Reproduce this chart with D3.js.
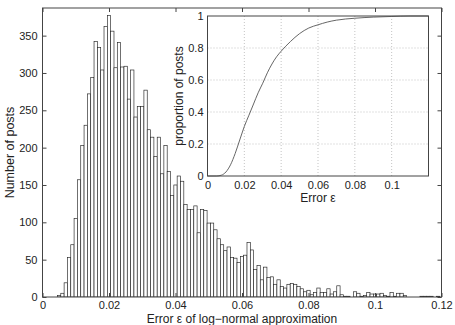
<!DOCTYPE html>
<html>
<head>
<meta charset="utf-8">
<script src="https://cdn.jsdelivr.net/npm/d3@7/dist/d3.min.js"></script>
<style>
  body { margin: 0; background: #fff; }
  text { font-family: "Liberation Sans", Arial, sans-serif; fill: #222; }
</style>
</head>
<body>
<svg id="chart" width="455" height="325"></svg>
<script>
// histogram: bars centred on k * binWidth, k = 0..120
const binWidth = 0.001;
const counts = [
  0, 0, 0, 0, 0, 2, 5, 19, 53, 70,
  105, 157, 203, 230, 272, 294, 342, 334, 304, 362,
  377, 356, 307, 341, 308, 309, 265, 304, 241, 255,
  255, 277, 224, 214, 188, 214, 165, 203, 168, 136,
  150, 162, 155, 124, 117, 117, 122, 86, 117, 116,
  99, 99, 90, 78, 70, 62, 67, 53, 52, 46,
  54, 56, 73, 63, 37, 42, 23, 40, 26, 27,
  17, 23, 14, 12, 17, 18, 17, 14, 11, 7,
  9, 3, 6, 12, 6, 6, 11, 4, 7, 15,
  3, 1, 1, 0, 7, 5, 1, 2, 6, 4,
  4, 4, 5, 2, 1, 6, 1, 5, 5, 2,
  0, 0, 0, 0, 1, 1, 1, 1, 0, 1,
  0
];
const xTicks = [0, 0.02, 0.04, 0.06, 0.08, 0.1, 0.12];
const yTicks = [0, 50, 100, 150, 200, 250, 300, 350];

// inset: cumulative proportion of posts
const cdfError = [0, 0.005, 0.0075, 0.01, 0.0125, 0.015, 0.0175, 0.02, 0.0225, 0.025,
  0.0275, 0.03, 0.0325, 0.035, 0.0375, 0.04, 0.045, 0.05, 0.055, 0.06,
  0.065, 0.07, 0.08, 0.09, 0.1, 0.11, 0.12];
const cdfProp = [0, 0, 0.005, 0.025, 0.07, 0.14, 0.225, 0.31, 0.38, 0.45,
  0.52, 0.58, 0.645, 0.7, 0.745, 0.78, 0.84, 0.89, 0.925, 0.945,
  0.962, 0.974, 0.986, 0.993, 0.997, 1, 1];
const insetXTicks = [0, 0.02, 0.04, 0.06, 0.08, 0.1];
const insetYTicks = [0, 0.2, 0.4, 0.6, 0.8, 1];

const svg = d3.select('#chart');
const fmt = (d) => String(d);

// ---- main axes
const x = d3.scaleLinear().domain([0, 0.12]).range([42.5, 441.5]);
const y = d3.scaleLinear().domain([0, 387]).range([297, 8]);

svg.append('clipPath').attr('id', 'clip')
  .append('rect')
  .attr('x', x(0)).attr('y', y(387))
  .attr('width', x(0.12) - x(0)).attr('height', y(0) - y(387));

svg.append('g')
  .attr('clip-path', 'url(#clip)')
  .selectAll('rect')
  .data(counts)
  .join('rect')
  .attr('x', (d, i) => x((i - 0.5) * binWidth))
  .attr('y', (d) => y(d))
  .attr('width', x(binWidth) - x(0))
  .attr('height', (d) => y(0) - y(d))
  .style('fill', '#fff')
  .style('stroke', '#222')
  .style('stroke-width', 0.65);

function styleAxis(g) {
  g.select('.domain').remove();
  g.selectAll('.tick line').style('stroke', '#444');
  g.selectAll('text')
    .style('font-family', '"Liberation Sans", Arial, sans-serif')
    .style('font-size', '11px')
    .style('fill', '#222');
}

svg.append('g')
  .attr('transform', `translate(0,${y(0)})`)
  .call(d3.axisBottom(x).tickValues(xTicks).tickFormat(fmt).tickSize(-4).tickPadding(4))
  .call(styleAxis);
svg.append('g')
  .attr('transform', `translate(0,${y(387)})`)
  .call(d3.axisTop(x).tickValues(xTicks).tickFormat('').tickSize(-4))
  .call(styleAxis);
svg.append('g')
  .attr('transform', `translate(${x(0)},0)`)
  .call(d3.axisLeft(y).tickValues(yTicks).tickFormat(fmt).tickSize(-4).tickPadding(5))
  .call(styleAxis);
svg.append('g')
  .attr('transform', `translate(${x(0.12)},0)`)
  .call(d3.axisRight(y).tickValues(yTicks).tickFormat('').tickSize(-4))
  .call(styleAxis);

svg.append('rect')
  .attr('x', x(0)).attr('y', y(387))
  .attr('width', x(0.12) - x(0)).attr('height', y(0) - y(387))
  .style('fill', 'none').style('stroke', '#444').style('stroke-width', 1);

svg.append('text')
  .attr('x', (x(0) + x(0.12)) / 2).attr('y', 322.5)
  .attr('text-anchor', 'middle')
  .style('font-size', '12px')
  .text('Error ε of log−normal approximation');
svg.append('text')
  .attr('transform', `translate(14,${(y(0) + y(387)) / 2}) rotate(-90)`)
  .attr('text-anchor', 'middle')
  .style('font-size', '12.5px')
  .text('Number of posts');

// ---- inset
const ix = d3.scaleLinear().domain([0, 0.12]).range([207.5, 428.5]);
const iy = d3.scaleLinear().domain([0, 1]).range([176, 16]);

svg.append('rect')
  .attr('x', ix(0)).attr('y', iy(1))
  .attr('width', ix(0.12) - ix(0)).attr('height', iy(0) - iy(1))
  .style('fill', '#fff');

svg.append('g')
  .selectAll('line.vgrid')
  .data(insetXTicks.slice(1))
  .join('line')
  .attr('class', 'vgrid')
  .attr('x1', (d) => ix(d)).attr('x2', (d) => ix(d))
  .attr('y1', iy(0)).attr('y2', iy(1))
  .style('stroke', '#aaa').style('stroke-width', 0.7).style('stroke-dasharray', '1,2');
svg.append('g')
  .selectAll('line.hgrid')
  .data(insetYTicks.slice(1, -1))
  .join('line')
  .attr('class', 'hgrid')
  .attr('x1', ix(0)).attr('x2', ix(0.12))
  .attr('y1', (d) => iy(d)).attr('y2', (d) => iy(d))
  .style('stroke', '#aaa').style('stroke-width', 0.7).style('stroke-dasharray', '1,2');

const cdf = cdfError.map((e, i) => [e, cdfProp[i]]);
svg.append('path')
  .datum(cdf)
  .attr('d', d3.line().x((d) => ix(d[0])).y((d) => iy(d[1])).curve(d3.curveMonotoneX))
  .style('fill', 'none').style('stroke', '#555').style('stroke-width', 0.9);

svg.append('g')
  .attr('transform', `translate(0,${iy(0)})`)
  .call(d3.axisBottom(ix).tickValues(insetXTicks).tickFormat(fmt).tickSize(0).tickPadding(5))
  .call(styleAxis);
svg.append('g')
  .attr('transform', `translate(${ix(0)},0)`)
  .call(d3.axisLeft(iy).tickValues(insetYTicks).tickFormat(fmt).tickSize(0).tickPadding(4))
  .call(styleAxis);

svg.append('rect')
  .attr('x', ix(0)).attr('y', iy(1))
  .attr('width', ix(0.12) - ix(0)).attr('height', iy(0) - iy(1))
  .style('fill', 'none').style('stroke', '#444').style('stroke-width', 1);

svg.append('text')
  .attr('x', (ix(0) + ix(0.12)) / 2).attr('y', 202)
  .attr('text-anchor', 'middle')
  .style('font-size', '12px')
  .text('Error ε');
svg.append('text')
  .attr('transform', `translate(183,${(iy(0) + iy(1)) / 2}) rotate(-90)`)
  .attr('text-anchor', 'middle')
  .style('font-size', '12px')
  .text('proportion of posts');
</script>
</body>
</html>
